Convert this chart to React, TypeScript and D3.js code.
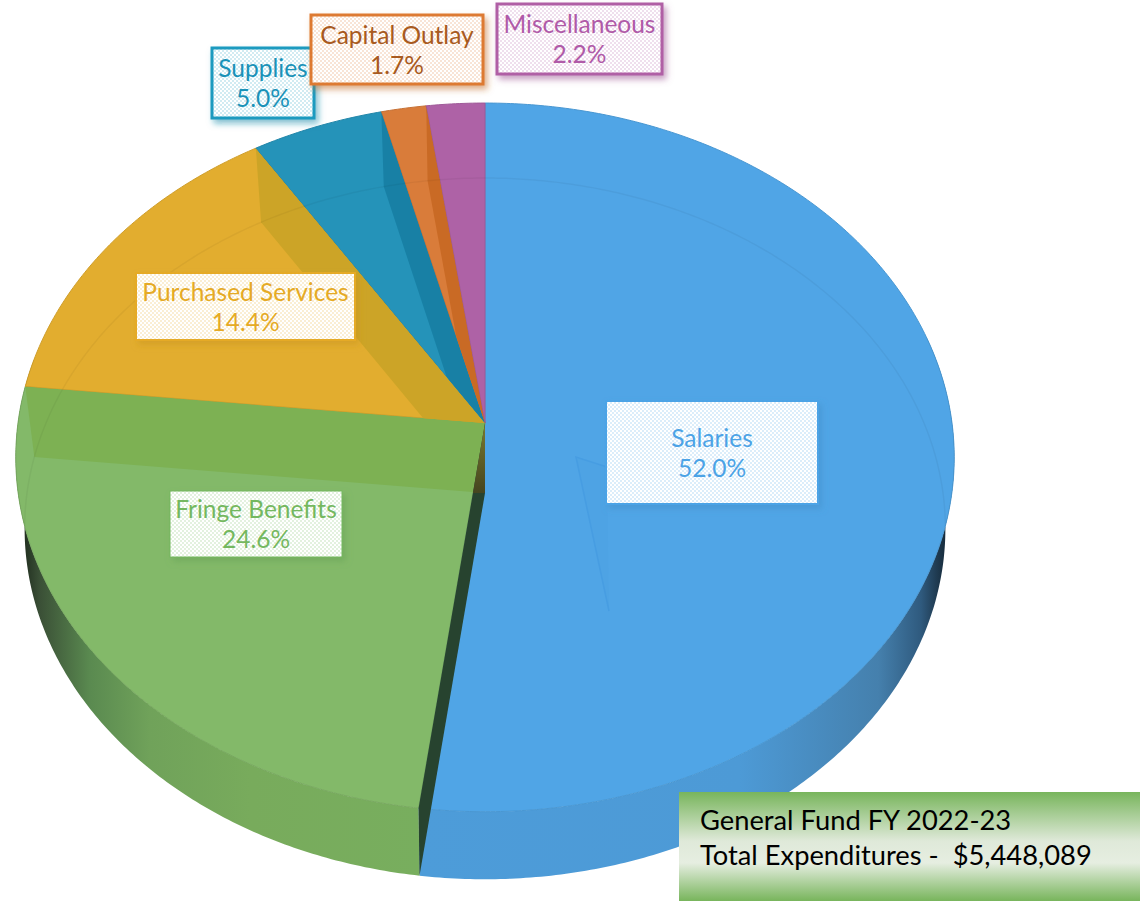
import React from "react";
import * as d3 from "d3";

const categories = ["Salaries", "Fringe Benefits", "Purchased Services", "Supplies", "Capital Outlay", "Miscellaneous"];
const percents = [52.0, 24.6, 14.4, 5.0, 1.7, 2.2];
const sliceColors = ["#50a5e6", "#83b969", "#e2ad2f", "#2593b9", "#d97c3a", "#ae62a6"];
const wallColors = ["#50a5e6", "#7db153", "#cca427", "#1880a5", "#c96a25", "#ae62a6"];
const borderColors = ["#4ca3e6", "#74b85f", "#e5aa25", "#1a9abf", "#dd7a30", "#b05ea5"];
const textColors = ["#4ca3e6", "#74b85f", "#e5aa25", "#1a92b8", "#a85a20", "#b05aa8"];
const titleLines = ["General Fund FY 2022-23", "Total Expenditures -  $5,448,089"];

// label boxes: x, y, w, h, stroke width
const labelBoxes = [
  [606, 401, 212, 103, 2],
  [170, 491, 172, 66, 1],
  [136, 273, 219, 67, 2],
  [212, 48, 102, 70, 3],
  [311, 15, 172, 69, 3],
  [497, 4, 165, 70, 3],
];
const labelOrder = [0, 1, 2, 3, 4, 5];

const top = { cx: 485, cy: 423, rx: 467, ry: 351, k: 0.097 };
const base = { cx: 485, cy: 493, rx: 458, ry: 347, k: 0.1016 };
type Disc = typeof top;

const project = (d: Disc, a: number): [number, number] => {
  const c = Math.sin(a);
  const s = -Math.cos(a);
  const w = 1 - d.k * s;
  return [d.cx + (d.rx * c) / w, d.cy + (d.ry * s) / w];
};
const arcPts = (d: Disc, a0: number, a1: number) => {
  const n = Math.max(2, Math.ceil(Math.abs(a1 - a0) / 0.01));
  return d3.range(n + 1).map((i) => project(d, a0 + ((a1 - a0) * i) / n));
};
const line = d3.line();
const closed = (pts: [number, number][]) => line(pts) + "Z";

const pie = d3.pie<number>().sort(null).value((v) => v);
const arcs = pie(percents);

const FONT = "Lato, 'Open Sans', sans-serif";

export default function App() {
  const blue = arcs[0];
  const green = arcs[1];
  const wallPath = (a0: number, a1: number) =>
    closed([...arcPts(top, a0, a1), ...arcPts(base, a1, a0)]);
  const baseOutline = closed(arcPts(base, 0, Math.PI * 2));
  const seamTop = project(top, blue.endAngle);
  const seamBase = project(base, blue.endAngle);
  const seamX = d3.scaleLinear().domain([top.cy, seamTop[1]]).range([top.cx, seamTop[0]]);
  return (
    <svg width={1140} height={901} style={{ position: "absolute", left: 0, top: 0, display: "block" }}>
      <defs>
        <linearGradient id="wallBlue" gradientUnits="userSpaceOnUse" x1={420} x2={953} y1={0} y2={0}>
          <stop offset="0" stopColor="#4d9cd9" />
          <stop offset="0.6" stopColor="#4d9ad6" />
          <stop offset="0.86" stopColor="#4580ad" />
          <stop offset="0.94" stopColor="#2f5a7e" />
          <stop offset="0.97" stopColor="#1f3a50" />
          <stop offset="1" stopColor="#10202c" />
        </linearGradient>
        <linearGradient id="wallGreen" gradientUnits="userSpaceOnUse" x1={420} x2={15} y1={0} y2={0}>
          <stop offset="0" stopColor="#78ae5e" />
          <stop offset="0.42" stopColor="#78ab5c" />
          <stop offset="0.667" stopColor="#70a25a" />
          <stop offset="0.815" stopColor="#5a8a50" />
          <stop offset="0.94" stopColor="#3a4f36" />
          <stop offset="1" stopColor="#141d14" />
        </linearGradient>
        <linearGradient id="boxGrad" x1="0" x2="0" y1="0" y2="1">
          <stop offset="0" stopColor="#78b55c" />
          <stop offset="0.45" stopColor="#dfe9d9" />
          <stop offset="0.65" stopColor="#e6eee1" />
          <stop offset="1" stopColor="#78b55c" />
        </linearGradient>
        <linearGradient id="seamGrad" gradientUnits="userSpaceOnUse" x1={0} x2={0} y1={top.cy} y2={base.cy}>
          <stop offset="0" stopColor="#7a7a30" />
          <stop offset="1" stopColor="#45451f" />
        </linearGradient>
        {categories.map((_, i) => (
          <pattern key={i} id={`dots${i}`} width={4} height={4} patternUnits="userSpaceOnUse">
            <rect width={4} height={4} fill="#fff" />
            <rect width={2} height={2} fill={borderColors[i]} opacity={0.2} />
            <rect x={2} y={2} width={2} height={2} fill={borderColors[i]} opacity={0.2} />
          </pattern>
        ))}
        {categories.map((_, i) => (
          <filter key={i} id={`shadow${i}`} x="-20%" y="-20%" width="140%" height="150%">
            <feDropShadow
              dx={3}
              dy={4}
              stdDeviation={3}
              floodColor={d3.color(borderColors[i])!.darker(0.35).formatHex()}
              floodOpacity={0.55}
            />
          </filter>
        ))}
        {arcs.map((a, i) => (
          <clipPath key={i} id={`clip${i}`}>
            <path d={closed([[top.cx, top.cy], ...arcPts(top, a.startAngle, a.endAngle)])} />
          </clipPath>
        ))}
      </defs>

      {/* outer walls */}
      <path d={wallPath(Math.PI * 0.42, blue.endAngle)} fill="url(#wallBlue)" />
      <path d={wallPath(green.startAngle, Math.PI * 1.56)} fill="url(#wallGreen)" />

      {/* top faces */}
      {arcs.map((a, i) => (
        <path
          key={i}
          d={closed([[top.cx, top.cy], ...arcPts(top, a.startAngle, a.endAngle)])}
          fill={sliceColors[i]}
          stroke={d3.color(sliceColors[i])!.darker(0.25).formatHex()}
          strokeWidth={1}
        />
      ))}

      {/* base rim and slice end walls seen through the translucent top */}
      {arcs.map((a, i) => (
        <g key={i} clipPath={`url(#clip${i})`}>
          {i > 0 && i < 5 && (
            <path
              d={closed([
                [top.cx, top.cy],
                project(top, a.endAngle),
                project(base, a.endAngle),
                [base.cx, base.cy],
              ])}
              fill={wallColors[i]}
            />
          )}
          <path d={baseOutline} fill="none" stroke="#000" strokeOpacity={0.045} strokeWidth={1.5} />
        </g>
      ))}

      {/* wall between fringe benefits and salaries */}
      <path
        d={closed([[top.cx, top.cy], [base.cx, base.cy], seamBase, seamTop])}
        fill="#27432f"
      />
      <path
        d={closed([[top.cx, top.cy], [base.cx, base.cy], [seamX(base.cy), base.cy]])}
        fill="url(#seamGrad)"
      />

      {/* callout pointer for Salaries */}
      <path
        d={line([
          [607, 467],
          [576, 457],
          [609, 611],
        ])!}
        fill="#4ea3e4"
        stroke="#479de2"
        strokeWidth={1.5}
      />

      {/* labels */}
      {labelOrder.map((i) => {
        const [x, y, w, h, sw] = labelBoxes[i];
        const cx = x + w / 2;
        const cy = y + h / 2;
        return (
          <g key={i}>
            <rect
              x={x}
              y={y}
              width={w}
              height={h}
              fill={`url(#dots${i})`}
              stroke={borderColors[i]}
              strokeWidth={sw}
              filter={`url(#shadow${i})`}
            />
            <text x={cx} y={cy - 6} textAnchor="middle" fontFamily={FONT} fontSize={24.5} fill={textColors[i]}>
              {categories[i]}
            </text>
            <text x={cx} y={cy + 24} textAnchor="middle" fontFamily={FONT} fontSize={24.5} fill={textColors[i]}>
              {d3.format(".1f")(percents[i])}%
            </text>
          </g>
        );
      })}

      {/* total box */}
      <rect x={679} y={792} width={461} height={109} fill="url(#boxGrad)" />
      <text x={700} y={830} fontFamily={FONT} fontSize={27.3} fill="#000" style={{ whiteSpace: "pre" }}>
        {titleLines[0]}
      </text>
      <text x={700} y={865} fontFamily={FONT} fontSize={27.3} fill="#000" style={{ whiteSpace: "pre" }}>
        {titleLines[1]}
      </text>
    </svg>
  );
}
